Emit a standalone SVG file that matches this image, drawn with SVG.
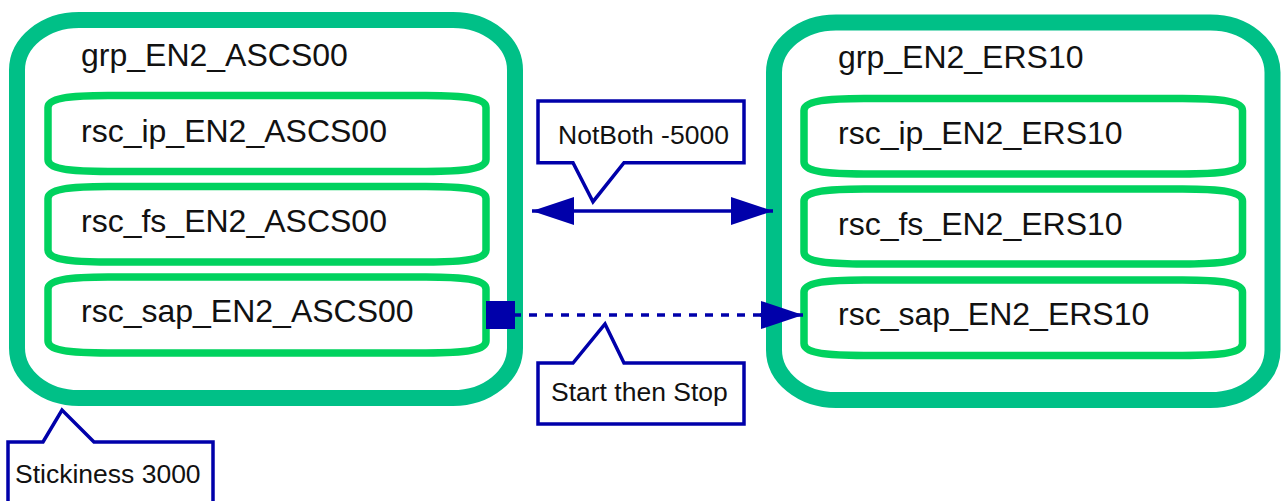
<svg xmlns="http://www.w3.org/2000/svg" width="1282" height="501" viewBox="0 0 1282 501">
  <style>
    .grp { fill: #ffffff; stroke: #00C087; stroke-width: 16; }
    .rsc { fill: #ffffff; stroke: #00D25E; stroke-width: 7.5; }
    .lbl { font-family: "Liberation Sans", Arial, sans-serif; font-size: 32px; fill: #111111; }
    .note { fill: #ffffff; stroke: #0000AA; stroke-width: 3.5; stroke-linejoin: miter; }
    .note-text { font-family: "Liberation Sans", Arial, sans-serif; font-size: 26.5px; fill: #111111; }
    .link { fill: none; stroke: #0000AA; stroke-width: 3.5; }
    .dashed { stroke-dasharray: 8 8; }
  </style>
  <defs>
    <marker id="arrow" markerUnits="userSpaceOnUse" markerWidth="42" markerHeight="28" refX="42" refY="14" orient="auto-start-reverse" viewBox="0 0 42 28">
      <path d="M0,0 L42,14 L0,28 Z" fill="#0000AA"/>
    </marker>
  </defs>

  <!-- Resource group grp_EN2_ASCS00 -->
  <g id="grp_EN2_ASCS00">
    <rect class="grp" x="17" y="20" width="498" height="378" rx="62" ry="50"/>
    <text class="lbl" x="81" y="66">grp_EN2_ASCS00</text>
  </g>
  <g id="rsc_ip_EN2_ASCS00">
    <path class="rsc" d="M108,95.5 H426 C466,95.5 486,98.5 486,107.5 V159.5 C486,168.5 466,171.5 426,171.5 H108 C68,171.5 48,168.5 48,159.5 V107.5 C48,98.5 68,95.5 108,95.5 Z"/>
    <text class="lbl" x="81" y="142">rsc_ip_EN2_ASCS00</text>
  </g>
  <g id="rsc_fs_EN2_ASCS00">
    <path class="rsc" d="M108,186.5 H426 C466,186.5 486,189.5 486,198.5 V250 C486,259 466,262 426,262 H108 C68,262 48,259 48,250 V198.5 C48,189.5 68,186.5 108,186.5 Z"/>
    <text class="lbl" x="81" y="232">rsc_fs_EN2_ASCS00</text>
  </g>
  <g id="rsc_sap_EN2_ASCS00">
    <path class="rsc" d="M108,277 H426 C466,277 486,280 486,289 V341 C486,350 466,353 426,353 H108 C68,353 48,350 48,341 V289 C48,280 68,277 108,277 Z"/>
    <text class="lbl" x="81" y="322">rsc_sap_EN2_ASCS00</text>
  </g>

  <!-- Resource group grp_EN2_ERS10 -->
  <g id="grp_EN2_ERS10">
    <rect class="grp" x="774" y="22.5" width="498.5" height="377.5" rx="62" ry="50"/>
    <text class="lbl" x="838" y="68">grp_EN2_ERS10</text>
  </g>
  <g id="rsc_ip_EN2_ERS10">
    <path class="rsc" d="M864,98.5 H1182.5 C1222.5,98.5 1242.5,101.5 1242.5,110.5 V162 C1242.5,171 1222.5,174 1182.5,174 H864 C824,174 804,171 804,162 V110.5 C804,101.5 824,98.5 864,98.5 Z"/>
    <text class="lbl" x="838" y="144">rsc_ip_EN2_ERS10</text>
  </g>
  <g id="rsc_fs_EN2_ERS10">
    <path class="rsc" d="M864,189 H1182.5 C1222.5,189 1242.5,192 1242.5,201 V252 C1242.5,261 1222.5,264 1182.5,264 H864 C824,264 804,261 804,252 V201 C804,192 824,189 864,189 Z"/>
    <text class="lbl" x="838" y="235">rsc_fs_EN2_ERS10</text>
  </g>
  <g id="rsc_sap_EN2_ERS10">
    <path class="rsc" d="M864,280 H1182.5 C1222.5,280 1242.5,283 1242.5,292 V343.5 C1242.5,352.5 1222.5,355.5 1182.5,355.5 H864 C824,355.5 804,352.5 804,343.5 V292 C804,283 824,280 864,280 Z"/>
    <text class="lbl" x="838" y="325">rsc_sap_EN2_ERS10</text>
  </g>

  <!-- Constraints between the groups -->
  <g id="connectors">
    <!-- colocation: NotBoth -5000 -->
    <line class="link" x1="532" y1="211" x2="773" y2="211" marker-start="url(#arrow)" marker-end="url(#arrow)"/>
    <!-- order: start then stop -->
    <line class="link dashed" x1="513" y1="315" x2="770" y2="315"/>
    <line class="link" x1="760" y1="315" x2="803" y2="315" marker-end="url(#arrow)"/>
    <rect x="486" y="301" width="29" height="28" fill="#0000AA"/>
  </g>

  <!-- Callout labels -->
  <g id="note_notboth">
    <path class="note" d="M538,101 H744 V162.7 H624 L593,201.7 L573,162.7 H538 Z"/>
    <text class="note-text" x="558" y="144">NotBoth -5000</text>
  </g>
  <g id="note_order">
    <path class="note" d="M538,363 H573 L605,324 L624,363 H744 V424 H538 Z"/>
    <text class="note-text" x="551" y="401">Start then Stop</text>
  </g>
  <g id="note_stickiness">
    <path class="note" d="M8,442 H43 L62,410 L94,442 H213 V506 H8 Z"/>
    <text class="note-text" x="15" y="483">Stickiness 3000</text>
  </g>
</svg>
